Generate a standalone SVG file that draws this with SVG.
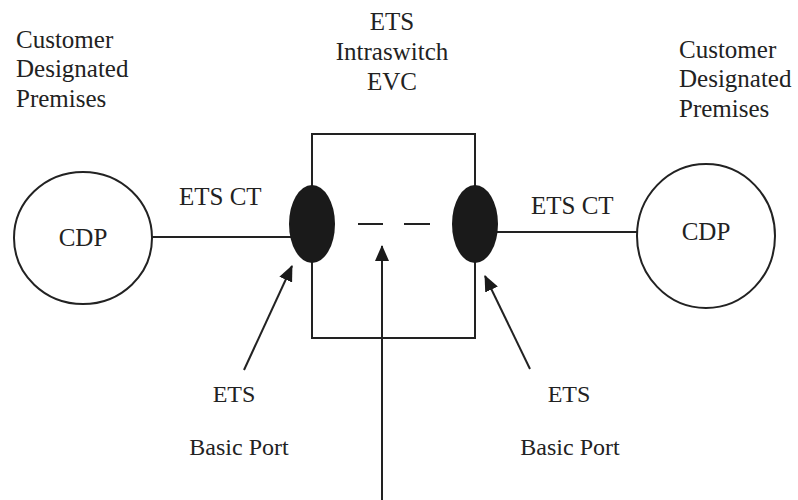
<svg xmlns="http://www.w3.org/2000/svg" width="798" height="500" viewBox="0 0 798 500">
<style>
text{font-family:'Liberation Serif','DejaVu Serif',serif;fill:#222}
.t{font-size:25px}
.s{font-size:24px}
.ln{stroke:#222;stroke-width:2;fill:none}
</style>
<defs>
<marker id="ah" viewBox="0 0 16 14" refX="15" refY="7" markerWidth="16" markerHeight="14" markerUnits="userSpaceOnUse" orient="auto">
<path d="M0,0 L16,7 L0,14 Z" fill="#1a1a1a"/>
</marker>
</defs>
<g id="connectors">
<line class="ln" x1="152" y1="237" x2="292" y2="237"/>
<line class="ln" x1="496" y1="232" x2="637" y2="232"/>
<line class="ln" x1="244" y1="370" x2="292" y2="266" marker-end="url(#ah)"/>
<line class="ln" x1="530" y1="369" x2="485" y2="276" marker-end="url(#ah)"/>
<line class="ln" x1="382" y1="500" x2="382" y2="246" marker-end="url(#ah)"/>
</g>
<g id="evc">
<rect class="ln" x="312" y="134" width="163" height="204"/>
<line class="ln" x1="358" y1="224" x2="383" y2="224"/>
<line class="ln" x1="404" y1="224" x2="430" y2="224"/>
</g>
<g id="port-left"><ellipse cx="312" cy="224" rx="23" ry="39" fill="#1a1a1a"/></g>
<g id="port-right"><ellipse cx="475" cy="224" rx="23" ry="39" fill="#1a1a1a"/></g>
<g id="cdp-left">
<ellipse class="ln" cx="83" cy="238" rx="69" ry="66"/>
<text class="t" x="83" y="246" text-anchor="middle" font-family="Liberation Serif, serif">CDP</text>
</g>
<g id="cdp-right">
<ellipse class="ln" cx="706" cy="236" rx="69" ry="72"/>
<text class="t" x="706" y="240" text-anchor="middle" font-family="Liberation Serif, serif">CDP</text>
</g>
<g id="labels" font-family="Liberation Serif, serif">
<text class="t" x="16" y="48">Customer</text>
<text class="t" x="16" y="77">Designated</text>
<text class="t" x="16" y="107">Premises</text>
<text class="t" x="679" y="58">Customer</text>
<text class="t" x="679" y="87">Designated</text>
<text class="t" x="679" y="117">Premises</text>
<text class="t" x="392" y="30" text-anchor="middle">ETS</text>
<text class="t" x="392" y="60" text-anchor="middle">Intraswitch</text>
<text class="t" x="392" y="90" text-anchor="middle">EVC</text>
<text class="t" x="179" y="205">ETS CT</text>
<text class="t" x="531" y="214">ETS CT</text>
<text class="s" x="234" y="402" text-anchor="middle">ETS</text>
<text class="s" x="239" y="455" text-anchor="middle">Basic Port</text>
<text class="s" x="569" y="402" text-anchor="middle">ETS</text>
<text class="s" x="570" y="455" text-anchor="middle">Basic Port</text>
</g>
</svg>
